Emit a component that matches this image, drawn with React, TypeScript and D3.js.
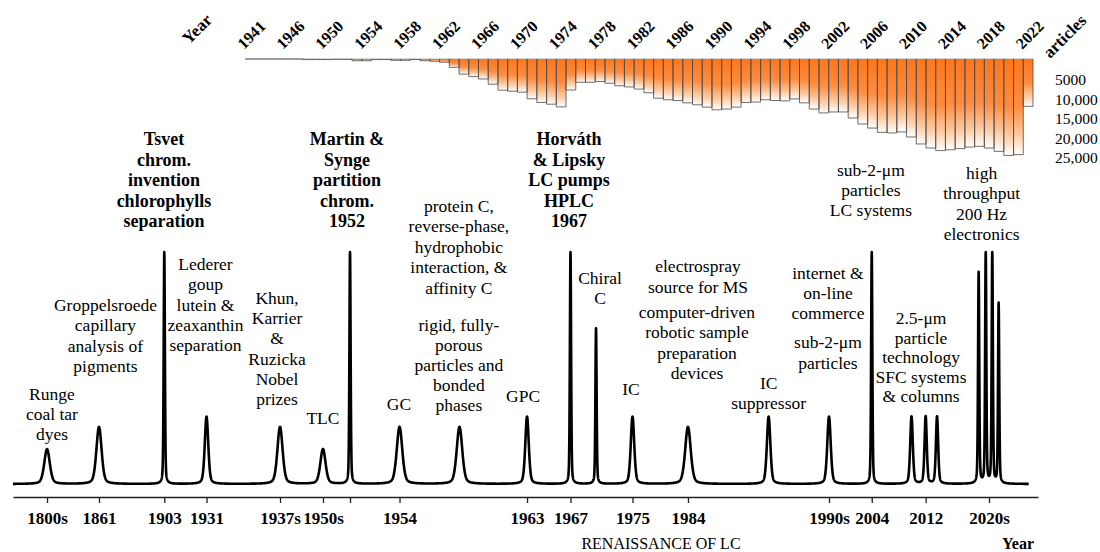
import React, { useEffect, useRef } from "react"
import * as d3 from "d3"

// ---- top histogram: articles per year ----
const barYears = [1941, 1942, ...d3.range(1944, 2023)]
const articles = [
  0, 0, 0, 0, 0, 0, 150, 150, 150, 100, 100, 450, 450, 150, 150, 350, 350, 150, 450, 600,
  850, 2150, 3900, 4550, 5150, 6500, 8050, 8300, 8550, 10250, 11200, 11650, 12350,
  8000, 6000, 6000, 5800, 6250, 6900, 7200, 7750, 8700, 10100, 10500, 10700, 11300,
  11800, 12400, 13100, 12900, 12400, 11200, 11100, 10500, 10700, 10800, 10300, 11300,
  12900, 13900, 13650, 13650, 15200, 16750, 17800, 18900, 19050, 18800, 20100, 21900,
  22950, 23600, 23400, 23100, 22700, 22500, 22950, 23800, 24850, 24650, 12200,
]
const yearLabels = [1941, 1946, 1950, 1954, 1958, 1962, 1966, 1970, 1974, 1978, 1982,
  1986, 1990, 1994, 1998, 2002, 2006, 2010, 2014, 2018, 2022]
const articleTicks = [5000, 10000, 15000, 20000, 25000]

// ---- chromatogram-like timeline (x in timeline units 0..100) ----
const peakPos = [3.32, 8.39, 14.76, 18.88, 26.05, 30.24, 32.88, 37.71, 43.56, 50.15,
  54.39, 56.88, 60.44, 65.85, 73.72, 79.61, 83.78, 87.66, 89.04, 90.15,
  94.21, 94.9, 95.54, 96.16]
const peakHeight = [15, 24.6, 100, 29, 24.6, 15, 100, 24.6, 24.6, 29,
  100, 67, 29, 24.6, 29, 29, 100, 29, 29, 29,
  91, 100, 100, 77.6]
const peakWidth = [0.32, 0.3, 0.07, 0.2, 0.3, 0.3, 0.07, 0.32, 0.32, 0.2,
  0.07, 0.07, 0.2, 0.32, 0.2, 0.2, 0.07, 0.15, 0.13, 0.13,
  0.07, 0.07, 0.07, 0.07]

const axisPos = [3.32, 8.39, 14.76, 18.88, 26.05, 30.24, 32.88, 37.71, 50.15, 54.39,
  60.44, 65.85, 79.61, 83.78, 89.04, 95.22]
const axisLabels = ["1800s", "1861", "1903", "1931", "1937s", "1950s", "", "1954", "1963",
  "1967", "1975", "1984", "1990s", "2004", "2012", "2020s"]

const notes = [
  { at: 3.8, y: 394, lh: 20, bold: false, lines: ["Runge", "coal tar", "dyes"] },
  { at: 9.02, y: 305, lh: 20.3, bold: false, lines: ["Groppelsroede", "capillary", "analysis of", "pigments"] },
  { at: 14.73, y: 139, lh: 20.5, bold: true, lines: ["Tsvet", "chrom.", "invention", "chlorophylls", "separation"] },
  { at: 18.78, y: 264, lh: 20.3, bold: false, lines: ["Lederer", "goup", "lutein &", "zeaxanthin", "separation"] },
  { at: 25.76, y: 298, lh: 20.2, bold: false, lines: ["Khun,", "Karrier", "&", "Ruzicka", "Nobel", "prizes"] },
  { at: 30.24, y: 418, lh: 20, bold: false, lines: ["TLC"] },
  { at: 32.59, y: 139, lh: 20.5, bold: true, lines: ["Martin &", "Synge", "partition", "chrom.", "1952"] },
  { at: 37.66, y: 404, lh: 20, bold: false, lines: ["GC"] },
  { at: 43.5, y: 206, lh: 20.4, bold: false, lines: ["protein C,", "reverse-phase,", "hydrophobic", "interaction, &", "affinity C"] },
  { at: 43.5, y: 325, lh: 20, bold: false, lines: ["rigid, fully-", "porous", "particles and", "bonded", "phases"] },
  { at: 49.76, y: 396, lh: 20, bold: false, lines: ["GPC"] },
  { at: 54.24, y: 139, lh: 20.5, bold: true, lines: ["Horváth", "& Lipsky", "LC pumps", "HPLC", "1967"] },
  { at: 57.27, y: 278, lh: 20, bold: false, lines: ["Chiral", "C"] },
  { at: 66.83, y: 266, lh: 20.5, bold: false, lines: ["electrospray", "source for MS"] },
  { at: 66.73, y: 312, lh: 20.3, bold: false, lines: ["computer-driven", "robotic sample", "preparation", "devices"] },
  { at: 60.29, y: 389, lh: 20, bold: false, lines: ["IC"] },
  { at: 73.72, y: 383, lh: 20, bold: false, lines: ["IC", "suppressor"] },
  { at: 79.51, y: 273, lh: 20, bold: false, lines: ["internet &", "on-line", "commerce"] },
  { at: 79.51, y: 342, lh: 20.5, bold: false, lines: ["sub-2-μm", "particles"] },
  { at: 83.7, y: 170, lh: 20, bold: false, lines: ["sub-2-μm", "particles", "LC systems"] },
  { at: 94.5, y: 173, lh: 20.3, bold: false, lines: ["high", "throughput", "200 Hz", "electronics"] },
  { at: 88.59, y: 318, lh: 19.5, bold: false, lines: ["2.5-μm", "particle", "technology", "SFC systems", "& columns"] },
]

const W = 1100
const H = 552
const FONT = "'Liberation Serif', 'DejaVu Serif', serif"

function peakShape(d: number, w: number) {
  let r = d / w
  return 0.65 * Math.exp(-Math.LN2 * r * r) + 0.35 / (1 + r * r)
}

export default function App() {
  const ref = useRef<SVGSVGElement>(null)

  useEffect(() => {
    let svg = d3.select(ref.current)
    svg.selectAll("*").remove()

    // ----- histogram -----
    let xBar = d3.scaleBand<number>().domain(barYears).range([245, 1033]).paddingInner(0)
    let yBar = d3.scaleLinear().domain([0, 25000]).range([59, 156])

    let grad = svg.append("defs").append("linearGradient")
      .attr("id", "barGrad")
      .attr("x1", 0).attr("y1", 0).attr("x2", 0).attr("y2", 1)
    grad.append("stop").attr("offset", "0%").attr("stop-color", "#ff761a")
    grad.append("stop").attr("offset", "50%").attr("stop-color", "#ff8c40")
    grad.append("stop").attr("offset", "80%").attr("stop-color", "#ffcca4")
    grad.append("stop").attr("offset", "100%").attr("stop-color", "#ffffff")

    let top = svg.append("g")
    top.append("line")
      .attr("x1", xBar.range()[0]).attr("x2", xBar.range()[1])
      .attr("y1", yBar(0)).attr("y2", yBar(0))
      .attr("stroke", "#aaa").attr("stroke-width", 1)

    top.selectAll("rect.bar")
      .data(barYears)
      .enter()
      .append("rect")
      .attr("class", "bar")
      .attr("x", d => xBar(d)!)
      .attr("y", yBar(0))
      .attr("width", xBar.bandwidth())
      .attr("height", (d, i) => yBar(articles[i]) - yBar(0))
      .attr("fill", "url(#barGrad)")

    top.selectAll("path.edge")
      .data(barYears)
      .enter()
      .append("path")
      .attr("class", "edge")
      .attr("d", (d, i) => {
        let x0 = xBar(d)!, x1 = x0 + xBar.bandwidth()
        let y0 = yBar(0), y1 = yBar(articles[i])
        return `M${x0},${y0}V${y1}H${x1}V${y0}`
      })
      .attr("fill", "none")
      .attr("stroke", "#4a4a4a")
      .attr("stroke-width", 0.8)

    top.selectAll("text.yr")
      .data(yearLabels)
      .enter()
      .append("text")
      .attr("class", "yr")
      .attr("transform", d => `translate(${xBar(d)! - 1}, 50) rotate(-45)`)
      .attr("font-size", 16)
      .attr("font-weight", "bold")
      .text(d => d)

    top.append("text")
      .attr("transform", "translate(189, 45) rotate(-45)")
      .attr("font-size", 17)
      .attr("font-weight", "bold")
      .text("Year")

    top.append("text")
      .attr("transform", "translate(1050, 59) rotate(-45)")
      .attr("font-size", 17)
      .attr("font-weight", "bold")
      .text("articles")

    top.selectAll("text.art")
      .data(articleTicks)
      .enter()
      .append("text")
      .attr("class", "art")
      .attr("x", 1055)
      .attr("y", d => yBar(d) + 7)
      .attr("font-size", 15.5)
      .text(d => (d >= 10000 ? d3.format(",")(d) : String(d)))

    // ----- timeline -----
    let x = d3.scaleLinear().domain([0, 100]).range([13, 1038])
    let y = d3.scaleLinear().domain([0, 100]).range([484, 252])

    let signal = d3.range(0, 99.1, 0.01).map(u => {
      let v = 0
      for (let k = 0; k < peakPos.length; k++) {
        v += peakHeight[k] * peakShape(u - peakPos[k], peakWidth[k])
      }
      return [u, Math.min(v, 100)] as [number, number]
    })

    let line = d3.line<[number, number]>()
      .x(d => x(d[0]))
      .y(d => y(d[1]))

    svg.append("path")
      .datum(signal)
      .attr("fill", "none")
      .attr("stroke", "#000")
      .attr("stroke-width", 2.6)
      .attr("stroke-linejoin", "round")
      .attr("d", line)

    let axis = svg.append("g")
      .attr("transform", "translate(0, 497)")
      .call(d3.axisBottom(x)
        .tickValues(axisPos)
        .tickFormat((d, i) => axisLabels[i])
        .tickSize(6)
        .tickSizeOuter(0)
        .tickPadding(9))
    axis.select(".domain").attr("stroke", "#222").attr("stroke-width", 1.6)
    axis.selectAll(".tick line").attr("stroke", "#222").attr("stroke-width", 1.3)
    axis.selectAll(".tick text")
      .attr("font-family", FONT)
      .attr("font-size", 17)
      .attr("font-weight", "bold")
      .attr("fill", "#000")

    svg.append("text")
      .attr("x", 661).attr("y", 549)
      .attr("text-anchor", "middle")
      .attr("font-size", 16)
      .text("RENAISSANCE OF LC")

    svg.append("text")
      .attr("x", 1034).attr("y", 549)
      .attr("text-anchor", "end")
      .attr("font-size", 16)
      .attr("font-weight", "bold")
      .text("Year")

    // annotations
    let ann = svg.append("g")
    notes.forEach(n => {
      let t = ann.append("text")
        .attr("text-anchor", "middle")
        .attr("font-size", n.bold ? 18 : 17.5)
        .attr("font-weight", n.bold ? "bold" : "normal")
      n.lines.forEach((s, i) => {
        t.append("tspan")
          .attr("x", x(n.at))
          .attr("y", n.y + i * n.lh + 6)
          .text(s)
      })
    })
  }, [])

  return (
    <svg
      ref={ref}
      width={W}
      height={H}
      style={{ position: "absolute", left: 0, top: 0, background: "#fff" }}
      fontFamily={FONT}
    />
  )
}
